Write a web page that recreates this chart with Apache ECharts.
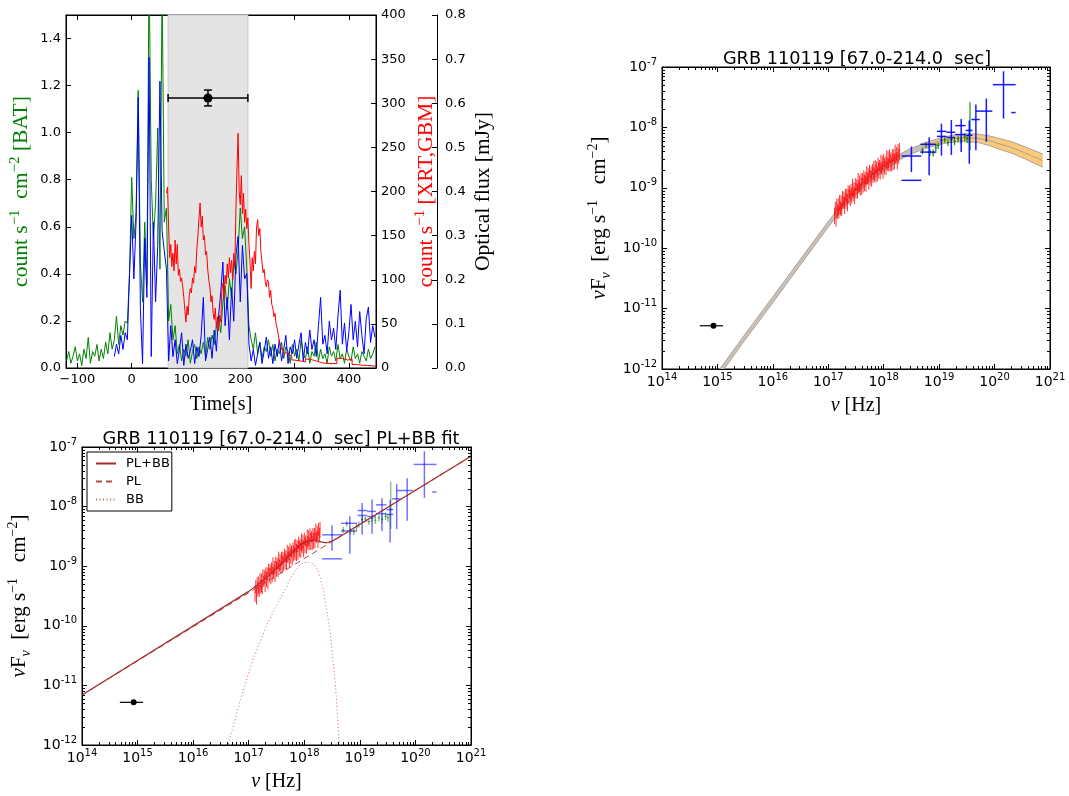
<!DOCTYPE html>
<html>
<head>
<meta charset="utf-8">
<script src="https://cdn.jsdelivr.net/npm/echarts@6/dist/echarts.min.js"></script>
<style>
html,body{margin:0;padding:0;background:#fff}
#c{width:1069px;height:796px}
</style>
</head>
<body>
<div id="c"></div>
<script>
// ===================== Light curve (GRB 110119) =====================
// Swift/BAT rate, 4 s bins starting at t = -120 s  [count s^-1 cm^-2]
const batStart = -120, batStep = 4;
const batRate = [
  0.03,0.07,0.02,0.05,0.09,0.03,0.06,0.01,0.08,0.04,
  0.13,0.02,0.07,0.05,0.10,0.03,0.08,0.04,0.11,0.06,
  0.15,0.08,0.12,0.22,0.10,0.18,0.14,0.20,0.19,0.40,
  0.81,0.55,0.65,1.18,0.45,0.28,0.62,0.35,1.72,0.80,
  0.55,0.70,1.02,0.42,1.65,0.62,0.68,0.20,0.27,0.12,
  0.18,0.06,0.10,0.03,0.08,0.05,0.12,0.02,0.07,0.10,
  0.04,0.09,0.06,0.11,0.05,0.13,0.08,0.14,0.10,0.18,
  0.22,0.15,0.28,0.35,0.25,0.38,0.30,0.45,0.40,0.50,
  0.68,0.55,0.60,0.42,0.18,0.12,0.08,0.15,0.06,0.11,
  0.04,0.09,0.07,0.12,0.05,0.10,0.03,0.08,0.06,0.11,
  0.04,0.09,0.07,0.02,0.10,0.05,0.08,0.03,0.12,0.06,
  0.04,0.09,0.02,0.07,0.05,0.11,0.03,0.08,0.04,0.06,
  0.02,0.09,0.05,0.07,0.03,0.10,0.04,0.06,0.02,0.08,
  0.05,0.03,0.09,0.04,0.06,0.02,0.07,0.05,0.03,0.08,
  0.04,0.06,0.09
];
// Fermi/GBM rate, 4 s bins starting at t = -32 s  [count s^-1]
const gbmStart = -32, gbmStep = 4;
const gbmCounts = [
  13,27,16,37,21,40,32,107,173,101,
  165,307,67,5,147,80,352,13,165,75,
  139,325,155,133,112,8,48,13,32,5,
  21,40,3,27,11,19,32,5,24,13,
  37,80,8,21,35,11,43,19,59,85,
  120,48,80,32,91,53,128,149,75,139,
  101,107,27,8,21,3,16,29,5,19,
  35,11,24,5,27,13,32,8,21,37,
  5,24,16,32,11,27,40,8,29,16,
  43,21,32,13,48,80,27,37,16,53,
  32,45,21,59,88,27,51,19,40,72,
  32,53,24,64,37,16,56,69,29,48,
  35
];
// Swift/XRT rate  [count s^-1]
const xrtTime = [
  64,66,68,70,72,74,76,78,80,82,84,86,88,90,92,94,96,98,100,102,
  104,106,108,110,112,114,116,118,120,122,124,126,128,130,132,134,136,138,140,142,
  144,146,148,150,152,154,156,158,160,162,164,166,168,170,172,174,176,178,180,182,
  184,186,188,190,192,194,196,198,200,202,204,206,208,210,212,214,216,218,220,222,
  224,226,228,230,232,234,236,238,240,242,244,246,248,250,252,254,256,258,260,262,
  264,266,268,270,272,274,276,
  280,285,290,295,300,310,320,328,340,350,360,370,378,388,398,406,414,425,435,450
];
const xrtCounts = [
  198,205,160,125,140,115,130,110,145,118,140,105,112,98,102,92,80,65,52,70,
  60,82,90,85,102,96,115,108,135,150,170,187,160,172,145,150,128,132,112,100,
  92,75,82,62,55,68,45,58,42,60,52,88,96,78,105,95,118,102,125,108,
  122,100,130,115,180,228,266,200,185,218,175,198,165,180,158,170,140,120,90,125,
  110,132,118,160,168,150,158,132,120,108,112,98,92,100,97,80,88,72,68,58,
  62,50,45,38,30,26,21,
  17,15,13,9,8,7,10,8,6,5,5,5,11,9,10,4,3,3,2,2
];
// SED integration interval and optical flux in it
const sedInterval = [67, 214];
const optTime = 140.5, optFlux = 0.612, optFluxErr = 0.018;   // mJy

const timeTicks = [-100, 0, 100, 200, 300, 400];
const batTicks = [0, 0.2, 0.4, 0.6, 0.8, 1.0, 1.2, 1.4];

// ===================== Spectral energy distribution =====================
// XRT spectrum: channel centre (1e17 Hz), nuFnu (1e-9 erg s^-1 cm^-2), relative error
const xrtBinFactor = 1.015;
const xrtNu17 = [
  1.30,1.34,1.38,1.42,1.46,1.51,1.55,1.60,1.65,1.70,
  1.75,1.80,1.86,1.91,1.97,2.03,2.09,2.15,2.22,2.28,
  2.35,2.42,2.50,2.57,2.65,2.73,2.81,2.89,2.98,3.07,
  3.16,3.26,3.36,3.46,3.56,3.67,3.78,3.89,4.01,4.13,
  4.25,4.38,4.51,4.65,4.79,4.93,5.08,5.23,5.39,5.55,
  5.72,5.89,6.06,6.25,6.43,6.63,6.83,7.03,7.24,7.46,
  7.68,7.91,8.15,8.40,8.65,8.91,9.17,9.45,9.73,10.0,
  10.3,10.6,11.0,11.3,11.6,12.0,12.3,12.7,13.1,13.5,
  13.9,14.3,14.7,15.2,15.6,16.1,16.6,17.1,17.6,18.1,
  18.7,19.2
];
const xrtFlux9 = [
  0.36,0.47,0.34,0.54,0.42,0.51,0.40,0.59,0.47,0.56,
  0.45,0.68,0.57,0.68,0.55,0.78,0.63,0.76,0.60,0.92,
  0.73,0.87,0.71,0.96,0.77,1.06,0.78,0.98,0.79,1.17,
  0.94,1.14,0.90,1.32,1.05,1.23,0.97,1.39,1.12,1.44,
  1.14,1.58,1.26,1.49,1.21,1.72,1.44,1.70,1.37,1.95,
  1.51,1.83,1.48,2.05,1.70,2.09,1.66,2.30,1.79,2.22,
  1.75,2.53,2.03,2.38,1.94,2.66,2.13,2.65,2.07,2.94,
  2.34,2.74,2.21,3.12,2.50,3.10,2.45,3.45,2.74,3.19,
  2.56,3.51,2.80,3.58,2.84,3.89,3.10,3.76,2.97,4.27,
  3.40,4.25
];
const xrtRelErr = [
  0.30,0.24,0.33,0.21,0.27,0.32,0.23,0.29,0.26,0.35,
  0.24,0.30,0.21,0.27,0.33,0.23,0.29,0.26,0.32,0.20,
  0.27,0.24,0.30,0.21,0.29,0.33,0.23,0.26,0.32,0.24,
  0.29,0.21,0.27,0.33,0.24,0.30,0.23,0.26,0.32,0.21,
  0.27,0.24,0.30,0.23,0.29,0.33,0.21,0.26,0.32,0.24,
  0.27,0.23,0.30,0.21,0.29,0.33,0.24,0.26,0.32,0.23,
  0.27,0.24,0.30,0.21,0.29,0.33,0.23,0.26,0.32,0.24,
  0.29,0.21,0.27,0.33,0.24,0.30,0.23,0.26,0.32,0.21,
  0.27,0.24,0.30,0.23,0.29,0.33,0.21,0.26,0.32,0.24,
  0.27,0.30
];
// BAT spectrum (1e18 Hz ; 1e-9 erg s^-1 cm^-2)
const batBinFactor = 1.05;
const batNu18 = [5.0,5.8,6.8,7.8,8.7,9.6,11.0,12.6,14.5,16.6,19.0,22.0,25.0,29.0,32.0,36.0];
const batF9   = [4.1,5.2,3.9,3.8,4.6,5.0,6.1,6.2,5.6,6.3,5.9,6.5,6.1,6.9,6.5,9.0];
const batLo9  = [3.6,4.6,3.4,3.3,4.0,4.4,5.4,5.6,4.9,5.5,5.1,5.7,5.2,5.9,5.5,4.2];
const batHi9  = [4.6,5.8,4.4,4.3,5.2,5.6,6.8,6.8,6.3,7.1,6.7,7.3,7.0,7.9,7.5,26.0];
// GBM spectrum (1e18 Hz ; 1e-9 erg s^-1 cm^-2)
const gbmNu18   = [3.16,3.16,6.6,6.6,11.0,11.0,16.6,16.6,25.0,25.0,35.0,35.0,46.0,71.0,145.0,220.0];
const gbmNuLo18 = [2.09,2.09,4.57,4.57,9.1,9.1,13.5,13.5,19.5,19.5,30.0,30.0,38.0,46.0,93.0,200.0];
const gbmNuHi18 = [4.79,4.79,8.9,8.9,13.5,13.5,19.5,19.5,30.0,30.0,40.0,40.0,54.0,91.0,240.0,240.0];
const gbmF9     = [3.36,1.33,5.25,3.9,8.6,7.1,8.3,6.8,10.7,7.6,8.9,7.4,13.5,18.6,51.0,17.6];
const gbmFLo9   = [1.82,1.33,1.62,3.9,3.4,7.1,3.5,6.8,3.9,7.6,2.5,7.4,4.2,5.8,14.0,17.6];
const gbmFHi9   = [4.83,1.33,6.9,3.9,11.5,7.1,13.2,6.8,13.8,7.6,13.0,7.4,24.0,30.0,85.0,17.6];
// optical point
const optNu = 8.5e14, optNuLo = 4.8e14, optNuHi = 1.26e15, optNuFnu = 5.2e-12;

// Band-function model: grey confidence band
const bandNu = [1e15,3e15,1e16,3e16,1e17,2e17,4e17,7e17,1e18,1.5e18,2e18,3e18,5e18,8e18,1.2e19,2e19,3e19];
const bandLo = [7.0e-13,2.85e-12,1.25e-11,5.0e-11,2.24e-10,5.0e-10,9.6e-10,1.48e-9,1.91e-9,2.46e-9,2.95e-9,3.58e-9,4.3e-9,4.9e-9,5.4e-9,5.9e-9,6.1e-9];
const bandHi = [8.8e-13,3.55e-12,1.57e-11,6.2e-11,2.78e-10,6.2e-10,1.19e-9,1.84e-9,2.38e-9,3.05e-9,3.66e-9,4.44e-9,5.3e-9,6.1e-9,6.6e-9,7.3e-9,7.5e-9];
// high-energy (orange) band, 1e-9 erg s^-1 cm^-2
const orNu  = [5e18,8e18,1.2e19,2e19,3e19,5e19,8e19,1.3e20,2e20,3.5e20,7.4e20];
const orMid9 = [5.01,5.62,6.17,6.61,6.76,6.61,6.03,5.25,4.68,3.80,2.82];
const orHi9  = [5.37,6.17,6.92,7.59,7.85,7.76,7.24,6.46,5.82,4.79,3.63];
const orLo9  = [4.68,5.13,5.50,5.75,5.82,5.62,5.01,4.27,3.76,3.02,2.19];

// PL + BB fit
const plNu = [1e14, 1e21];
const plF  = [6.9e-12, 7.0e-8];
const totNu = [1e14,1e17,1.41e17,2.0e17,2.82e17,3.98e17,5.62e17,7.94e17,1.0e18,1.26e18,1.58e18,2.0e18,2.51e18,3.16e18,3.98e18,1e21];
const totF  = [6.9e-12,3.78e-10,4.80e-10,6.24e-10,8.28e-10,1.12e-9,1.59e-9,2.18e-9,2.49e-9,2.68e-9,2.75e-9,2.56e-9,2.47e-9,2.64e-9,2.96e-9,7.0e-8];
const bbNu = [4.0e16,4.27e16,7.08e16,1.23e17,2.14e17,2.82e17,4.27e17,6.46e17,7.94e17,9.77e17,1.2e18,1.45e18,1.7e18,1.95e18,2.24e18,2.57e18,2.95e18,3.63e18,4.27e18,4.4e18];
const bbF  = [7e-13,1.0e-12,5.8e-12,2.95e-11,1.05e-10,1.78e-10,3.7e-10,7.9e-10,1.0e-9,1.15e-9,1.17e-9,1.1e-9,9.1e-10,6.2e-10,3.7e-10,1.7e-10,7.2e-11,1.07e-11,1.0e-12,6e-13];

// ===================== helpers =====================
const SANS = 'DejaVu Sans', SERIF = 'Liberation Serif';
const tickIn = (len) => ({show: true, inside: true, length: len, lineStyle: {color: '#000', width: 1}});
const axLine = {show: true, onZero: false, lineStyle: {color: '#000', width: 1}};
const lbl = (extra) => Object.assign({color: '#000', fontFamily: SANS, fontSize: 13}, extra || {});
const fmtSigned = v => (v < 0 ? '\u2212' + (-v) : String(v));

function pow10Label(v) {
  return '{b|10}{s|' + Math.round(Math.log10(v)) + '}';
}
const powRich = {
  b: {fontFamily: SANS, fontSize: 14, lineHeight: 20, color: '#000', verticalAlign: 'middle'},
  s: {fontFamily: SANS, fontSize: 10, lineHeight: 9, color: '#000', verticalAlign: 'top'}
};
function nameStyle(color, size) {
  const sup = Math.round(size * 0.68);
  return {
    color: color, fontFamily: SERIF, fontSize: size, lineHeight: size + 6,
    rich: {
      sup: {color: color, fontFamily: SERIF, fontSize: sup, lineHeight: 12, verticalAlign: 'top'},
      sub: {color: color, fontFamily: SERIF, fontSize: sup, fontStyle: 'italic', lineHeight: 12, verticalAlign: 'bottom'},
      i: {color: color, fontFamily: SERIF, fontSize: size, fontStyle: 'italic', lineHeight: size + 6}
    }
  };
}
const sedYName = '{i|\u03bd}F{sub|\u03bd}  [erg s{sup|\u22121}   cm{sup|\u22122}]';
const sedXName = '{i|\u03bd} [Hz]';

function logX(gridIndex, position, labels) {
  return {
    type: 'log', logBase: 10, gridIndex, position, min: 1e14, max: 1e21, interval: 1, splitNumber: 7,
    axisLine: axLine, axisTick: tickIn(5), splitLine: {show: false},
    axisLabel: labels ? {formatter: pow10Label, rich: powRich, margin: 3} : {show: false},
    name: labels ? sedXName : '', nameLocation: 'middle', nameGap: 24, nameTextStyle: nameStyle('#000', 20)
  };
}
function logY(gridIndex, position, labels) {
  return {
    type: 'log', logBase: 10, gridIndex, position, min: 1e-12, max: 1e-7, interval: 1, splitNumber: 5,
    axisLine: axLine, axisTick: tickIn(5), splitLine: {show: false},
    axisLabel: labels ? {formatter: pow10Label, rich: powRich, margin: 5} : {show: false},
    name: labels ? sedYName : '', nameLocation: 'middle', nameRotate: 90, nameGap: 49,
    nameTextStyle: nameStyle('#000', 21)
  };
}

// draws error crosses; item = [x, y, xlo, xhi, ylo, yhi]
function errorBars(color, width, cap, dot) {
  return function (params, api) {
    const x = api.value(0), y = api.value(1);
    const c = api.coord([x, y]);
    const l = api.coord([api.value(2), y]);
    const r = api.coord([api.value(3), y]);
    const b = api.coord([x, api.value(4)]);
    const t = api.coord([x, api.value(5)]);
    const st = () => ({stroke: color, lineWidth: width, fill: 'none'});
    const seg = (x1, y1, x2, y2) => ({type: 'line', shape: {x1, y1, x2, y2}, style: st()});
    const kids = [];
    if (r[0] - l[0] > 0.3) kids.push(seg(l[0], c[1], r[0], c[1]));
    if (b[1] - t[1] > 0.3) kids.push(seg(c[0], b[1], c[0], t[1]));
    if (cap) {
      kids.push(seg(l[0], c[1] - cap, l[0], c[1] + cap));
      kids.push(seg(r[0], c[1] - cap, r[0], c[1] + cap));
      kids.push(seg(c[0] - cap, t[1], c[0] + cap, t[1]));
      kids.push(seg(c[0] - cap, b[1], c[0] + cap, b[1]));
    }
    if (dot) kids.push({type: 'circle', shape: {cx: c[0], cy: c[1], r: dot}, style: {fill: color}});
    return {type: 'group', children: kids};
  };
}
function bandShape(nu, lo, hi, mid, fill, edge) {
  return function (params, api) {
    if (params.dataIndex !== 0) return null;
    const up = nu.map((v, i) => api.coord([v, hi[i]]));
    const dn = nu.map((v, i) => api.coord([v, lo[i]]));
    const kids = [
      {type: 'polygon', shape: {points: up.concat(dn.slice().reverse())}, style: {fill: fill, stroke: 'none'}},
      {type: 'polyline', shape: {points: up}, style: {stroke: edge, lineWidth: 1, fill: 'none'}},
      {type: 'polyline', shape: {points: dn}, style: {stroke: edge, lineWidth: 1, fill: 'none'}}
    ];
    if (mid) kids.push({type: 'polyline', shape: {points: nu.map((v, i) => api.coord([v, mid[i]]))},
                        style: {stroke: edge, lineWidth: 1, fill: 'none'}});
    return {type: 'group', children: kids};
  };
}
// minor ticks at 2..9 x 10^n on all four sides of a log-log frame
function minorTicks(params, api) {
  const cs = params.coordSys, len = 3, kids = [];
  const st = () => ({stroke: '#000', lineWidth: 1});
  for (let e = 14; e < 21; e++) for (let k = 2; k <= 9; k++) {
    const px = Math.round(api.coord([k * Math.pow(10, e), 1e-10])[0]) + 0.5;
    kids.push({type: 'line', shape: {x1: px, y1: cs.y + cs.height, x2: px, y2: cs.y + cs.height - len}, style: st()});
    kids.push({type: 'line', shape: {x1: px, y1: cs.y, x2: px, y2: cs.y + len}, style: st()});
  }
  for (let e = -12; e < -7; e++) for (let k = 2; k <= 9; k++) {
    const py = Math.round(api.coord([1e15, k * Math.pow(10, e)])[1]) + 0.5;
    kids.push({type: 'line', shape: {x1: cs.x, y1: py, x2: cs.x + len, y2: py}, style: st()});
    kids.push({type: 'line', shape: {x1: cs.x + cs.width, y1: py, x2: cs.x + cs.width - len, y2: py}, style: st()});
  }
  return {type: 'group', children: kids};
}

// ===================== series data =====================
const batLine = batRate.map((v, i) => [batStart + i * batStep, v]);
const gbmLine = gbmCounts.map((v, i) => [gbmStart + i * gbmStep, v]);
const xrtLine = xrtCounts.map((v, i) => [xrtTime[i], v]);
const xrtSed = xrtNu17.map((v, i) => {
  const f = xrtFlux9[i] * 1e-9, e = f * xrtRelErr[i];
  return [v * 1e17, f, v * 1e17 / xrtBinFactor, v * 1e17 * xrtBinFactor, f - e, f + e];
});
const batSed = batNu18.map((v, i) => [v * 1e18, batF9[i] * 1e-9, v * 1e18 / batBinFactor, v * 1e18 * batBinFactor,
                                      batLo9[i] * 1e-9, batHi9[i] * 1e-9]);
const gbmSed = gbmNu18.map((v, i) => [v * 1e18, gbmF9[i] * 1e-9, gbmNuLo18[i] * 1e18, gbmNuHi18[i] * 1e18,
                                      gbmFLo9[i] * 1e-9, gbmFHi9[i] * 1e-9]);
const optSed = [[optNu, optNuFnu, optNuLo, optNuHi, optNuFnu, optNuFnu]];
const dims = ['x', 'y', 'x0', 'x1', 'y0', 'y1'];

function errSeries(xi, yi, data, renderItem, z) {
  return {type: 'custom', xAxisIndex: xi, yAxisIndex: yi, data, renderItem, dimensions: dims,
          encode: {x: 0, y: 1}, z: z, silent: true, clip: true};
}
function sedSeries(xi, yi, light) {
  return [
    errSeries(xi, yi, xrtSed, errorBars('rgba(255,0,0,0.8)', 1), 4),
    errSeries(xi, yi, batSed, errorBars(light ? 'rgba(0,128,0,0.55)' : 'rgba(0,128,0,0.9)', 1.2), 5),
    errSeries(xi, yi, gbmSed, errorBars(light ? 'rgba(0,0,255,0.55)' : 'rgba(0,0,255,0.9)', 1.5), 6),
    errSeries(xi, yi, optSed, errorBars('#000', 1.2, 0, 3), 7),
    {type: 'custom', xAxisIndex: xi, yAxisIndex: yi, data: [[1e15, 1e-10]], renderItem: minorTicks,
     z: 20, silent: true, clip: false}
  ];
}

const series = [
  // ---- light curve ----
  {type: 'custom', xAxisIndex: 0, yAxisIndex: 0, data: [sedInterval], z: 1, silent: true,
   renderItem: (params, api) => {
     const cs = params.coordSys;
     const a = api.coord([api.value(0), 0])[0], b = api.coord([api.value(1), 0])[0];
     return {type: 'rect', shape: {x: a, y: cs.y, width: b - a, height: cs.height},
             style: {fill: '#e4e4e4', stroke: '#c8c8c8', lineWidth: 1}};
   }},
  {type: 'line', name: 'BAT', xAxisIndex: 0, yAxisIndex: 0, data: batLine, showSymbol: false,
   lineStyle: {color: '#008000', width: 1}, z: 2, clip: true},
  {type: 'line', name: 'GBM', xAxisIndex: 0, yAxisIndex: 1, data: gbmLine, showSymbol: false,
   lineStyle: {color: '#0000ff', width: 1}, z: 3, clip: true},
  {type: 'line', name: 'XRT', xAxisIndex: 0, yAxisIndex: 1, data: xrtLine, step: 'end', showSymbol: false,
   lineStyle: {color: '#ff0000', width: 1}, z: 4, clip: true},
  errSeries(0, 2, [[optTime, optFlux, sedInterval[0], sedInterval[1], optFlux - optFluxErr, optFlux + optFluxErr]],
            errorBars('#000', 1.5, 4, 4.5), 6),
  // ---- SED with Band-function model ----
  {type: 'custom', xAxisIndex: 2, yAxisIndex: 3, data: [[bandNu[0], bandLo[0]]], z: 2, silent: true, clip: true,
   renderItem: bandShape(bandNu, bandLo, bandHi, null, '#c9c1b9', '#a9a5a0')},
  {type: 'custom', xAxisIndex: 2, yAxisIndex: 3, data: [[orNu[0], orLo9[0] * 1e-9]], z: 3, silent: true, clip: true,
   renderItem: bandShape(orNu, orLo9.map(v => v * 1e-9), orHi9.map(v => v * 1e-9), orMid9.map(v => v * 1e-9),
                         '#fbc978', '#a8a49e')},
  ...sedSeries(2, 3, false),
  // ---- SED with PL + BB fit ----
  ...sedSeries(4, 5, true),
  {type: 'line', name: 'PL', xAxisIndex: 4, yAxisIndex: 5, data: plNu.map((v, i) => [v, plF[i]]), showSymbol: false,
   symbol: 'none', lineStyle: {color: '#b54848', width: 1, type: [6, 4]}, itemStyle: {color: '#b54848'}, z: 8, clip: true},
  {type: 'line', name: 'PL+BB', xAxisIndex: 4, yAxisIndex: 5, data: totNu.map((v, i) => [v, totF[i]]), showSymbol: false,
   symbol: 'none', lineStyle: {color: '#a52a2a', width: 1.2}, itemStyle: {color: '#a52a2a'}, z: 9, clip: true},
  {type: 'line', name: 'BB', xAxisIndex: 4, yAxisIndex: 5, data: bbNu.map((v, i) => [v, bbF[i]]), showSymbol: false,
   symbol: 'none', lineStyle: {color: '#c86464', width: 1, type: [1, 2.5]}, itemStyle: {color: '#c86464'}, z: 8, clip: true}
];

const frame = {show: true, borderColor: '#000', borderWidth: 1, backgroundColor: 'transparent'};
const titleStyle = {fontFamily: SANS, fontSize: 17.7, fontWeight: 'normal', color: '#000'};

const option = {
  animation: false,
  backgroundColor: '#fff',
  title: [
    {text: 'GRB 110119 [67.0-214.0  sec]', left: 857, top: 50, textAlign: 'center', padding: 0, textStyle: titleStyle},
    {text: 'GRB 110119 [67.0-214.0  sec] PL+BB fit', left: 281, top: 430, textAlign: 'center', padding: 0, textStyle: titleStyle}
  ],
  legend: {
    data: ['PL+BB', 'PL', 'BB'], orient: 'vertical', left: 87, top: 452,
    backgroundColor: '#fff', borderColor: '#000', borderWidth: 1, borderRadius: 0,
    padding: [5, 2, 5, 8], itemGap: 5, itemWidth: 20, itemHeight: 14, selectedMode: false,
    itemStyle: {opacity: 0},
    textStyle: {fontFamily: SANS, fontSize: 13, color: '#000', padding: [0, 0, 0, 5]}
  },
  grid: [
    Object.assign({left: 66, top: 15, width: 310, height: 353}, frame),
    Object.assign({left: 662, top: 67, width: 388, height: 302}, frame),
    Object.assign({left: 82, top: 447, width: 389, height: 302}, frame)
  ],
  xAxis: [
    {type: 'value', gridIndex: 0, position: 'bottom', min: -121, max: 450,
     axisLine: axLine, axisTick: Object.assign(tickIn(5), {customValues: timeTicks}), splitLine: {show: false},
     axisLabel: lbl({customValues: timeTicks, formatter: fmtSigned, margin: 5}),
     name: 'Time[s]', nameLocation: 'middle', nameGap: 24, nameTextStyle: nameStyle('#000', 20)},
    {type: 'value', gridIndex: 0, position: 'top', min: -121, max: 450,
     axisLine: axLine, axisTick: Object.assign(tickIn(5), {customValues: timeTicks}), splitLine: {show: false},
     axisLabel: {show: false}},
    logX(1, 'bottom', true),
    logX(1, 'top', false),
    logX(2, 'bottom', true),
    logX(2, 'top', false)
  ],
  yAxis: [
    {type: 'value', gridIndex: 0, position: 'left', min: 0, max: 1.5,
     axisLine: axLine, axisTick: Object.assign(tickIn(5), {customValues: batTicks}), splitLine: {show: false},
     axisLabel: lbl({customValues: batTicks, formatter: v => v.toFixed(1), margin: 5}),
     name: 'count s{sup|\u22121}  cm{sup|\u22122} [BAT]', nameLocation: 'middle', nameRotate: 90, nameGap: 31,
     nameTextStyle: nameStyle('#008000', 21.5)},
    {type: 'value', gridIndex: 0, position: 'right', min: 0, max: 400, interval: 50,
     axisLine: axLine, axisTick: tickIn(5), splitLine: {show: false},
     axisLabel: lbl({margin: 5}),
     name: 'count s{sup|\u22121} [XRT,GBM]', nameLocation: 'middle', nameRotate: 90, nameGap: 37,
     nameTextStyle: nameStyle('#ff0000', 21.5)},
    {type: 'value', gridIndex: 0, position: 'right', offset: 61, min: 0, max: 0.8, interval: 0.1,
     axisLine: axLine, axisTick: tickIn(5), splitLine: {show: false},
     axisLabel: lbl({formatter: v => v.toFixed(1), margin: 8}),
     name: 'Optical flux [mJy]', nameLocation: 'middle', nameRotate: 90, nameGap: 27,
     nameTextStyle: nameStyle('#000', 21.5)},
    logY(1, 'left', true),
    logY(1, 'right', false),
    logY(2, 'left', true),
    logY(2, 'right', false)
  ],
  series: series
};

const chart = echarts.init(document.getElementById('c'), null, {renderer: 'canvas', width: 1069, height: 796});
chart.setOption(option);
</script>
</body>
</html>
